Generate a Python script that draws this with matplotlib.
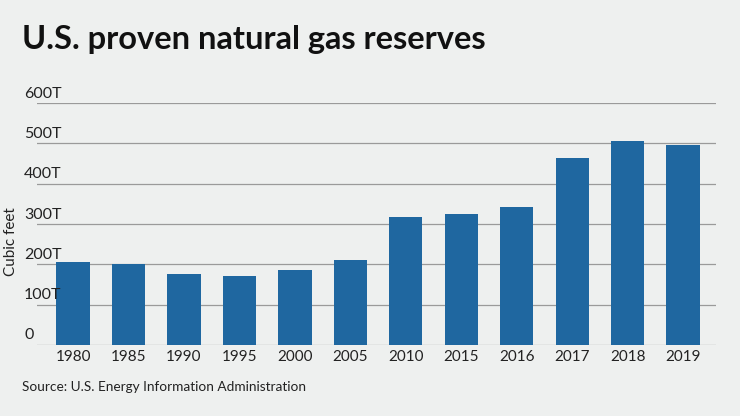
import matplotlib
matplotlib.use("Agg")
import matplotlib.pyplot as plt
from matplotlib.transforms import blended_transform_factory

years = ["1980","1985","1990","1995","2000","2005","2010","2015","2016","2017","2018","2019"]
reserves = [205, 200, 175, 170, 185, 210, 318, 325, 342, 465, 505, 497]
yticks = [0, 100, 200, 300, 400, 500, 600]
ylabels = ["0", "100T", "200T", "300T", "400T", "500T", "600T"]

bg = "#eef0ef"
plt.rcParams['font.family'] = ['Lato', 'DejaVu Sans']
fig = plt.figure(figsize=(7.4, 4.16), dpi=100, facecolor=bg)
ax = fig.add_axes([0.05, 0.171, 0.918, 0.581], facecolor=bg)
x = list(range(len(years)))
ax.bar(x, reserves, width=0.6, color="#1f67a0", zorder=3)
ax.set_xlim(-0.65, 11.6)
ax.set_ylim(0, 600)
for s in ax.spines.values():
    s.set_visible(False)
ax.set_yticks(yticks)
ax.set_yticklabels([])
ax.tick_params(axis='y', length=0)
ax.grid(axis='y', color="#9a9a9a", linewidth=0.9, zorder=0)
tr = blended_transform_factory(ax.transAxes, ax.transData)
for v, l in zip(yticks, ylabels):
    ax.text(-0.019, v + 6, l, transform=tr, ha='left', va='bottom', fontsize=11.5, color="#222222", zorder=4)
ax.set_xticks(x)
ax.set_xticklabels(years, fontsize=11, color="#222222")
ax.tick_params(axis='x', length=0, pad=4)
fig.text(0.005, 0.42, "Cubic feet", rotation=90, ha='left', va='center', fontsize=11, color="#222222")
fig.text(0.03, 0.905, "U.S. proven natural gas reserves", fontsize=23.5, fontweight='bold', color="#111111", va='center')
fig.text(0.03, 0.07, "Source: U.S. Energy Information Administration", fontsize=9.8, color="#222222", va='center')
fig.savefig("out.png", dpi=100, facecolor=bg)
